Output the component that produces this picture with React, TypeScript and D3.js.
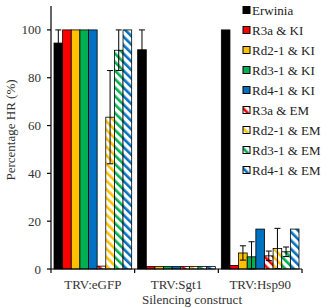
import { useEffect, useRef } from "react";
import * as d3 from "d3";

const constructs = ["TRV:eGFP", "TRV:Sgt1", "TRV:Hsp90"];

const treatments = [
  "Erwinia",
  "R3a & KI",
  "Rd2-1 & KI",
  "Rd3-1 & KI",
  "Rd4-1 & KI",
  "R3a & EM",
  "Rd2-1 & EM",
  "Rd3-1 & EM",
  "Rd4-1 & EM",
];

const treatmentColors = [
  "#000000",
  "#ff0000",
  "#ffc000",
  "#00b050",
  "#0070c0",
  "#ff0000",
  "#ffc000",
  "#00b050",
  "#0070c0",
];

// EM treatments are drawn hatched
const hatched = [false, false, false, false, false, true, true, true, true];

// mean % HR per treatment, one value per construct
const erwinia = [94.5, 91.7, 100];
const r3aKI = [100, 1, 1.5];
const rd21KI = [100, 1, 6.7];
const rd31KI = [100, 1, 5.1];
const rd41KI = [100, 1, 16.7];
const r3aEM = [1.2, 1, 5.5];
const rd21EM = [63.5, 1, 8.6];
const rd31EM = [91.5, 1, 7.2];
const rd41EM = [100, 1, 16.7];

// standard errors
const erwiniaErr = [5.5, 8.3, 0];
const r3aKIErr = [0, 0, 0];
const rd21KIErr = [0, 0, 3];
const rd31KIErr = [0, 0, 6.3];
const rd41KIErr = [0, 0, 0];
const r3aEMErr = [0, 0, 2];
const rd21EMErr = [19.5, 0, 8.4];
const rd31EMErr = [8.5, 0, 2];
const rd41EMErr = [0, 0, 0];

const means = [erwinia, r3aKI, rd21KI, rd31KI, rd41KI, r3aEM, rd21EM, rd31EM, rd41EM];
const errors = [
  erwiniaErr, r3aKIErr, rd21KIErr, rd31KIErr, rd41KIErr,
  r3aEMErr, rd21EMErr, rd31EMErr, rd41EMErr,
];

const yTicks = [0, 20, 40, 60, 80, 100];

const width = 329;
const height = 308;
const font = "'Liberation Serif', 'Times New Roman', serif";

export default function App() {
  const svgRef = useRef<SVGSVGElement>(null);

  useEffect(() => {
    if (!svgRef.current) return;
    const svg = d3.select(svgRef.current);
    svg.selectAll("*").remove();

    const left = 51;
    const right = 302;
    const top = 6;
    const bottom = 269;

    const y = d3.scaleLinear().domain([0, 110]).range([bottom, top]);
    const x0 = d3.scaleBand<string>().domain(constructs).range([left, right]);
    const x1 = d3
      .scaleBand<string>()
      .domain(treatments)
      .range([3, x0.bandwidth() - 3]);

    // Diagonal stripe patterns
    const defs = svg.append("defs");
    treatments.forEach((t, i) => {
      if (!hatched[i]) return;
      const p = defs
        .append("pattern")
        .attr("id", `hatch-${i}`)
        .attr("patternUnits", "userSpaceOnUse")
        .attr("width", 6)
        .attr("height", 6)
        .attr("patternTransform", "rotate(-45)");
      p.append("rect").attr("width", 6).attr("height", 6).attr("fill", "#fff");
      p.append("rect")
        .attr("x", 0)
        .attr("y", 0)
        .attr("width", 2.6)
        .attr("height", 6)
        .attr("fill", treatmentColors[i]);
    });

    const fillFor = (i: number) =>
      hatched[i] ? `url(#hatch-${i})` : treatmentColors[i];

    // Bars
    const groups = svg
      .selectAll("g.group")
      .data(constructs)
      .join("g")
      .attr("class", "group")
      .attr("transform", (d) => `translate(${x0(d)},0)`);

    groups.each(function (c, ci) {
      const g = d3.select(this);
      treatments.forEach((t, ti) => {
        const v = means[ti][ci];
        const bx = x1(t)!;
        const bw = x1.bandwidth();
        g.append("rect")
          .attr("x", bx)
          .attr("y", y(v))
          .attr("width", bw)
          .attr("height", y(0) - y(v))
          .attr("fill", fillFor(ti))
          .attr("stroke", "#000")
          .attr("stroke-width", 0.8);
      });
      // Error bars on top
      treatments.forEach((t, ti) => {
        const v = means[ti][ci];
        const e = errors[ti][ci];
        if (!e) return;
        const cx = x1(t)! + x1.bandwidth() / 2;
        const hi = Math.min(v + e, 100);
        const lo = Math.max(v - e, 0);
        const capW = x1.bandwidth() * 0.7;
        g.append("line")
          .attr("x1", cx)
          .attr("x2", cx)
          .attr("y1", y(hi))
          .attr("y2", y(lo))
          .attr("stroke", "#000")
          .attr("stroke-width", 1);
        [hi, lo].forEach((yy) => {
          g.append("line")
            .attr("x1", cx - capW / 2)
            .attr("x2", cx + capW / 2)
            .attr("y1", y(yy))
            .attr("y2", y(yy))
            .attr("stroke", "#000")
            .attr("stroke-width", 1);
        });
      });
    });

    // Y axis
    svg
      .append("line")
      .attr("x1", left)
      .attr("x2", left)
      .attr("y1", top)
      .attr("y2", bottom)
      .attr("stroke", "#000")
      .attr("stroke-width", 1.2);

    const yt = svg.append("g");
    yTicks.forEach((t) => {
      yt.append("line")
        .attr("x1", left - 4)
        .attr("x2", left)
        .attr("y1", y(t))
        .attr("y2", y(t))
        .attr("stroke", "#000")
        .attr("stroke-width", 1.2);
      yt.append("text")
        .attr("x", left - 10)
        .attr("y", y(t))
        .attr("dy", "0.35em")
        .attr("text-anchor", "end")
        .attr("font-family", font)
        .attr("font-size", 13)
        .attr("fill", "#333")
        .text(t);
    });

    // X axis
    svg
      .append("line")
      .attr("x1", left)
      .attr("x2", right)
      .attr("y1", bottom)
      .attr("y2", bottom)
      .attr("stroke", "#000")
      .attr("stroke-width", 1.2);

    const bounds = [...constructs.map((c) => x0(c)!), right];
    bounds.forEach((bx) => {
      svg
        .append("line")
        .attr("x1", bx)
        .attr("x2", bx)
        .attr("y1", bottom)
        .attr("y2", bottom + 4)
        .attr("stroke", "#000")
        .attr("stroke-width", 1.2);
    });

    constructs.forEach((c) => {
      svg
        .append("text")
        .attr("x", x0(c)! + x0.bandwidth() / 2)
        .attr("y", 289)
        .attr("text-anchor", "middle")
        .attr("font-family", font)
        .attr("font-size", 13)
        .attr("fill", "#333")
        .text(c);
    });

    // Axis titles
    svg
      .append("text")
      .attr("x", 192)
      .attr("y", 304)
      .attr("text-anchor", "middle")
      .attr("font-family", font)
      .attr("font-size", 13)
      .attr("fill", "#333")
      .text("Silencing construct");

    svg
      .append("text")
      .attr("transform", `translate(15,${130}) rotate(-90)`)
      .attr("text-anchor", "middle")
      .attr("font-family", font)
      .attr("font-size", 13)
      .attr("fill", "#333")
      .text("Percentage HR (%)");

    // Legend
    const legend = svg
      .append("g")
      .attr("transform", "translate(243,10)");
    treatments.forEach((t, i) => {
      const row = legend.append("g").attr("transform", `translate(0,${i * 20})`);
      row
        .append("rect")
        .attr("x", 0)
        .attr("y", -3.5)
        .attr("width", 7)
        .attr("height", 7)
        .attr("fill", fillFor(i))
        .attr("stroke", "#000")
        .attr("stroke-width", 1);
      row
        .append("text")
        .attr("x", 9)
        .attr("y", 0)
        .attr("dy", "0.35em")
        .attr("font-family", font)
        .attr("font-size", 13)
        .attr("fill", "#222")
        .text(t);
    });
  }, []);

  return (
    <svg
      ref={svgRef}
      width={width}
      height={height}
      style={{ position: "absolute", left: 0, top: 0, background: "#fff" }}
    />
  );
}
